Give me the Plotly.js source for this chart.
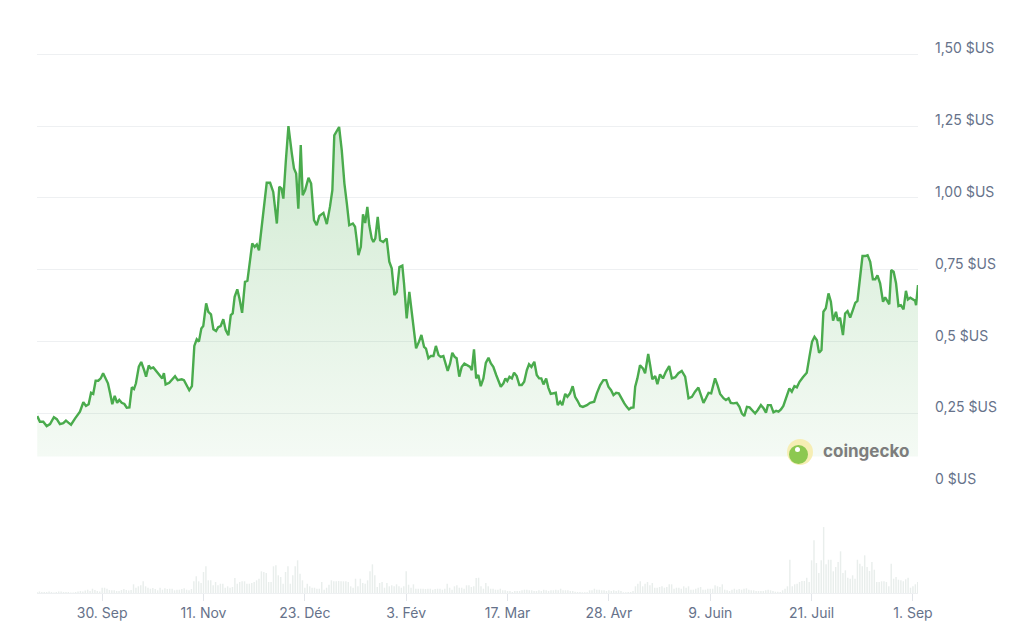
<!DOCTYPE html>
<html>
<head>
<meta charset="utf-8">
<script src="https://cdn.plot.ly/plotly-3.0.1.min.js"></script>
<style>
  html, body { margin: 0; padding: 0; background: #ffffff; }
  #chart { width: 1024px; height: 642px; }
</style>
</head>
<body>
<div id="chart"></div>
<script>
// ---- Data ----
const startDate = "2024-09-03";

// price points: day offset from startDate, price in USD
const priceDays = [
  0.1,1.2,2.6,4.0,5.4,7.0,8.2,9.5,10.9,12.0,13.0,14.1,15.8,17.8,19.2,20.3,21.4,22.4,23.3,24.3,
  25.4,26.4,27.4,28.3,29.4,30.3,31.2,32.2,33.2,34.1,35.1,36.2,37.2,38.3,39.3,40.2,41.0,42.2,43.2,44.4,
  45.2,46.3,47.1,48.2,49.6,51.0,51.9,52.6,53.3,54.8,57.2,58.3,60.0,60.9,62.0,63.1,64.2,65.2,66.2,67.1,
  68.1,68.9,70.1,71.0,72.1,73.1,74.2,75.1,76.1,77.2,78.2,79.3,80.3,81.1,81.9,83.0,83.9,85.0,86.2,87.2,
  88.3,89.2,90.2,91.1,92.0,93.1,94.1,95.2,96.6,97.9,99.4,100.4,101.3,102.1,103.1,104.2,105.6,106.5,107.4,108.3,
  109.3,110.1,111.1,112.5,113.6,114.8,115.9,117.0,118.7,120.1,121.4,122.4,123.2,125.2,126.3,127.4,128.4,129.4,130.9,131.8,
  132.5,133.2,134.2,135.1,136.0,136.9,137.7,138.7,139.4,140.2,141.2,142.2,143.5,144.9,146.0,147.0,148.1,149.1,150.2,151.4,
  152.1,153.2,154.3,155.3,156.3,157.1,158.3,159.3,160.4,161.2,162.2,163.2,164.3,165.3,166.4,167.3,168.4,169.2,170.2,171.2,
  172.1,173.1,173.9,175.0,176.0,177.1,178.1,179.5,180.2,181.1,182.0,182.9,183.9,185.0,186.0,187.1,188.1,189.1,190.3,191.2,
  192.2,193.3,194.1,194.9,195.8,196.8,197.7,198.8,199.9,200.9,201.9,203.0,203.9,204.9,206.1,207.1,208.1,209.0,209.9,211.0,
  211.9,212.9,214.0,215.0,215.8,216.8,217.7,218.9,219.8,220.9,222.0,223.0,224.0,225.1,226.2,227.9,229.2,230.9,232.0,233.4,
  234.7,235.9,236.8,237.9,238.9,240.0,241.1,242.4,243.4,244.4,245.3,246.2,247.2,247.9,248.8,249.9,251.1,252.0,253.3,254.1,
  255.0,256.2,257.1,258.2,259.4,260.6,262.0,263.1,264.5,265.8,267.2,268.6,270.0,271.4,272.7,274.1,275.1,276.2,277.2,278.3,
  279.4,280.1,281.0,282.0,283.1,284.5,285.5,286.6,287.5,288.6,290.0,291.1,292.1,293.1,294.2,295.3,296.7,297.6,298.7,300.0,
  301.1,302.1,302.9,304.1,305.2,306.3,307.3,308.3,309.3,310.5,311.8,312.8,313.9,314.9,316.0,317.4,319.0,320.1,321.2,322.2,
  323.2,324.1,325.1,325.9,326.9,328.0,329.0,329.9,331.1,331.9,332.8,334.0,334.9,335.9,337.0,338.1,339.1,340.0,341.1,342.1,
  343.2,344.2,345.3,346.4,347.4,348.3,349.4,350.6,351.5,352.2,353.2,354.0,355.0,356.0,357.0,358.0,359.1,360.1,360.9,361.9,
  362.8,363.9,364.3,365.1
];
const prices = [
  0.241,0.221,0.221,0.206,0.213,0.237,0.230,0.213,0.216,0.225,0.218,0.211,0.233,0.256,0.289,0.276,0.282,0.322,0.318,0.364,
  0.364,0.372,0.390,0.372,0.355,0.320,0.282,0.311,0.287,0.297,0.287,0.283,0.270,0.271,0.341,0.335,0.355,0.413,0.429,0.401,
  0.378,0.417,0.407,0.410,0.395,0.383,0.372,0.390,0.351,0.357,0.380,0.366,0.369,0.366,0.349,0.331,0.345,0.485,0.508,0.500,
  0.546,0.554,0.633,0.604,0.595,0.543,0.537,0.550,0.554,0.578,0.540,0.522,0.592,0.598,0.656,0.682,0.650,0.600,0.708,0.712,
  0.784,0.842,0.830,0.838,0.818,0.905,0.981,1.053,1.053,1.021,0.911,1.039,1.033,0.998,1.126,1.250,1.155,1.103,1.085,0.963,
  1.184,1.010,1.027,1.070,1.050,0.923,0.905,0.937,0.948,0.909,0.969,1.027,1.218,1.247,1.166,1.050,0.981,0.905,0.911,0.900,
  0.853,0.801,0.830,0.943,0.913,0.969,0.905,0.859,0.847,0.859,0.934,0.853,0.847,0.859,0.778,0.755,0.662,0.673,0.760,0.765,
  0.703,0.581,0.673,0.610,0.546,0.477,0.500,0.523,0.482,0.476,0.442,0.450,0.450,0.485,0.453,0.447,0.450,0.424,0.398,0.424,
  0.461,0.447,0.442,0.378,0.412,0.424,0.418,0.412,0.401,0.473,0.372,0.384,0.345,0.372,0.426,0.444,0.424,0.412,0.384,0.366,
  0.343,0.355,0.372,0.363,0.378,0.372,0.392,0.380,0.349,0.349,0.360,0.401,0.421,0.412,0.430,0.384,0.372,0.372,0.351,0.372,
  0.340,0.318,0.320,0.322,0.279,0.291,0.279,0.318,0.308,0.320,0.345,0.308,0.294,0.276,0.273,0.279,0.287,0.291,0.320,0.349,
  0.366,0.366,0.343,0.331,0.314,0.322,0.320,0.297,0.285,0.273,0.264,0.270,0.271,0.343,0.372,0.418,0.407,0.390,0.457,0.418,
  0.369,0.380,0.352,0.386,0.372,0.395,0.415,0.372,0.376,0.390,0.398,0.378,0.303,0.308,0.326,0.340,0.318,0.287,0.303,0.322,
  0.320,0.343,0.372,0.349,0.318,0.303,0.297,0.303,0.287,0.285,0.287,0.273,0.250,0.241,0.273,0.271,0.256,0.250,0.262,0.279,
  0.268,0.253,0.279,0.279,0.254,0.259,0.256,0.264,0.276,0.303,0.337,0.326,0.345,0.341,0.360,0.376,0.392,0.447,0.500,0.517,
  0.505,0.461,0.471,0.604,0.616,0.668,0.639,0.573,0.604,0.573,0.583,0.523,0.598,0.606,0.584,0.610,0.635,0.642,0.737,0.798,
  0.798,0.801,0.778,0.717,0.717,0.731,0.703,0.639,0.654,0.642,0.630,0.749,0.743,0.703,0.624,0.627,0.612,0.677,0.647,0.653,
  0.647,0.642,0.627,0.697
];

// daily trading volume (millions USD), one per day from startDate
const volumes = [
  20,30,20,20,20,30,20,10,20,30,30,20,20,20,10,10,
  20,30,40,30,50,66,40,86,60,40,30,
  106,106,86,60,54,54,40,40,60,80,60,50,60,
  174,106,134,154,234,134,
  106,86,100,80,54,106,66,94,80,86,86,54,66,66,80,94,66,54,80,
  234,334,234,200,420,534,254,254,
  154,220,154,186,186,106,134,106,120,300,186,220,234,234,186,186,200,220,
  254,286,
  434,420,400,220,220,534,554,354,320,186,420,534,186,354,534,654,386,254,
  106,186,134,106,106,86,86,220,66,106,166,254,234,234,
  240,
  234,234,234,220,134,106,286,134,286,200,186,254,434,574,
  354,
  120,200,220,106,200,134,154,134,174,134,106,134,434,166,106,174,86,86,86,86,
  80,86,86,66,80,86,86,66,86,186,106,66,134,154,106,106,86,154,154,120,134,
  300,306,
  134,86,200,134,86,86,66,66,86,54,54,40,40,20,40,40,40,
  54,66,66,54,54,40,40,54,40,66,54,40,54,54,66,54,86,54,54,54,
  40,40,26,20,20,14,14,14,54,54,86,66,66,54,54,40,54,40,54,40,
  54,40,14,14,20,20,40,134,186,234,134,186,220,154,200,106,106,120,134,106,
  120,174,174,86,106,106,86,134,106,134,66,66,86,106,120,66,66,86,86,86,
  154,134,120,174,66,54,40,66,86,66,80,66,86,94,66,54,54,40,40,40,
  40,54,66,54,40,26,26,20,54,86,134,666,134,174,186,220,240,240,306,220,
  654,1054,600,400,654,1320,574,666,666,434,520,620,834,400,454,306,286,354,286,666,
  586,534,754,520,440,620,466,220,220,234,234,220,134,586,286,320,266,254,234,274,306,106,134,174,220
];

// axis ticks
const xTickDates = ["2024-09-30","2024-11-11","2024-12-23","2025-02-03","2025-03-17","2025-04-28","2025-06-09","2025-07-21","2025-09-01"];
const xTickLabels = ["30. Sep","11. Nov","23. Déc","3. Fév","17. Mar","28. Avr","9. Juin","21. Juil","1. Sep"];
const yTickValues = [0, 0.25, 0.5, 0.75, 1.0, 1.25, 1.5];
const yTickLabels = ["0 $US","0,25 $US","0,5 $US","0,75 $US","1,00 $US","1,25 $US","1,50 $US"];
const fillBase = 0.1;

// ---- Build ----
const DAY = 86400000;
const t0 = Date.parse(startDate + "T00:00:00Z");
const priceX = priceDays.map(d => t0 + d * DAY);
const volX = volumes.map((v, i) => t0 + i * DAY);
const lastDay = priceDays[priceDays.length - 1];

const lineColor = "#4aab4d";
const textColor = "#66728a";
const gridColor = "#eef0f2";

const traces = [
  {
    type: "bar", x: volX, y: volumes, xaxis: "x", yaxis: "y2",
    marker: { color: "#e9eeec", line: { width: 0 } },
    hoverinfo: "skip", showlegend: false
  },
  {
    type: "scatter", mode: "lines",
    x: [priceX[0], priceX[priceX.length - 1]], y: [fillBase, fillBase],
    line: { width: 0, color: "rgba(0,0,0,0)" },
    hoverinfo: "skip", showlegend: false, xaxis: "x", yaxis: "y"
  },
  {
    type: "scatter", mode: "lines", x: priceX, y: prices,
    line: { color: lineColor, width: 2.4 },
    fill: "tonexty",
    fillgradient: {
      type: "vertical",
      start: fillBase, stop: 1.25,
      colorscale: [[0, "rgba(76,175,80,0.06)"], [1, "rgba(76,175,80,0.26)"]]
    },
    hoverinfo: "skip", showlegend: false, xaxis: "x", yaxis: "y"
  }
];

const px = v => (v - 37) / 881;     // helper for paper x of decoration
const py = v => (593 - v) / 544;    // helper for paper y of decoration

const layout = {
  width: 1024, height: 642,
  margin: { l: 37, r: 106, t: 49, b: 49 },
  paper_bgcolor: "#ffffff", plot_bgcolor: "#ffffff",
  showlegend: false,
  bargap: 0.4,
  font: { family: "Inter, 'Noto Sans', sans-serif", color: textColor, size: 14 },
  xaxis: {
    type: "date", anchor: "y2",
    range: [t0, t0 + lastDay * DAY],
    tickmode: "array", tickvals: xTickDates, ticktext: xTickLabels,
    showgrid: false, zeroline: false,
    showline: true, linecolor: gridColor, linewidth: 1,
    ticks: "outside", ticklen: 7, tickwidth: 1, tickcolor: "#e2e5e9",
    tickfont: { size: 14, color: textColor },
    fixedrange: true
  },
  yaxis: {
    domain: [0.198, 1], range: [0, 1.5185], side: "right",
    tickmode: "array", tickvals: yTickValues, ticktext: yTickLabels,
    showgrid: true, gridcolor: gridColor, gridwidth: 1,
    zeroline: false, showline: false, ticks: "",
    ticklabelstandoff: 16, ticklabelshift: -6,
    tickfont: { size: 14, color: textColor },
    fixedrange: true
  },
  yaxis2: {
    domain: [0, 0.198], range: [0, 2156],
    showgrid: false, zeroline: false, showticklabels: false, showline: false,
    fixedrange: true
  },
  shapes: [
    { type: "circle", xref: "paper", yref: "paper",
      x0: px(787), x1: px(813), y0: py(465), y1: py(439),
      fillcolor: "#f6eeb4", line: { width: 0 }, layer: "above" },
    { type: "circle", xref: "paper", yref: "paper",
      x0: px(789), x1: px(808), y0: py(464), y1: py(445),
      fillcolor: "#8cc850", line: { width: 0 }, layer: "above" },
    { type: "circle", xref: "paper", yref: "paper",
      x0: px(795), x1: px(800), y0: py(452), y1: py(447),
      fillcolor: "#ffffff", line: { width: 0 }, layer: "above" }
  ],
  annotations: [
    { xref: "paper", yref: "paper", x: px(821), y: py(451),
      xanchor: "left", yanchor: "middle", showarrow: false,
      text: "<b>coingecko</b>",
      font: { family: "Inter, 'Open Sans', sans-serif", size: 17, color: "#7d7d7d" } }
  ]
};

Plotly.newPlot("chart", traces, layout, { displayModeBar: false, staticPlot: true });
</script>
</body>
</html>
